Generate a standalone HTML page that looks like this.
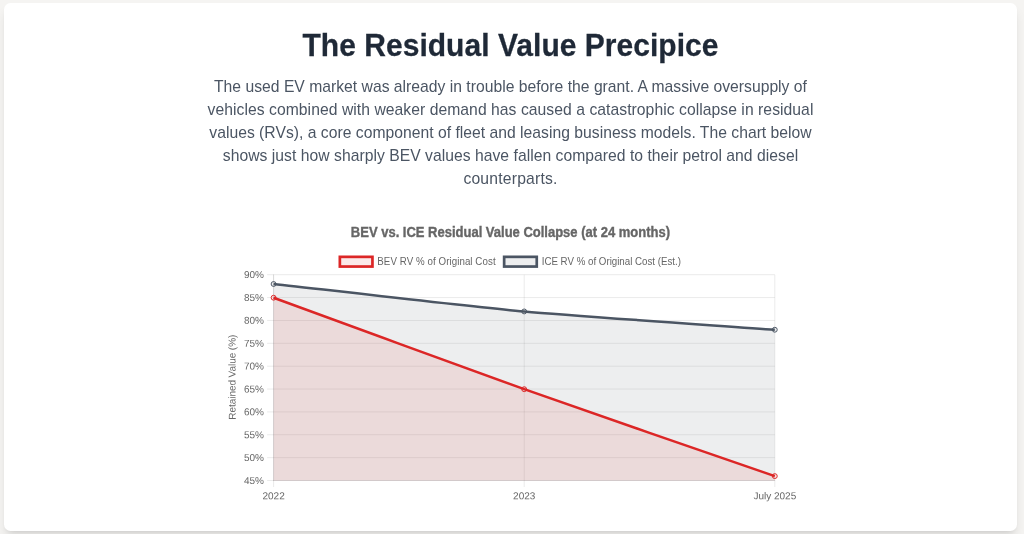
<!DOCTYPE html>
<html lang="en">
<head>
<meta charset="utf-8">
<title>The Residual Value Precipice</title>
<style>
  html, body { margin: 0; padding: 0; }
  body {
    width: 1024px; height: 534px; overflow: hidden; position: relative;
    background: #f5f4f2;
    font-family: "Liberation Sans", sans-serif;
  }
  .card {
    position: absolute; left: 4px; top: 3px; width: 1013.4px; height: 527.5px;
    background: #ffffff; border-radius: 6.5px;
    box-shadow: 0 8px 12px -2.4px rgba(0,0,0,0.10), 0 3.2px 5px -3.2px rgba(0,0,0,0.10);
  }
  h2 {
    position: absolute; left: 0; top: 23px; width: 1021px; margin: 0;
    text-align: center; white-space: nowrap;
    font-size: 30px; line-height: 40px; font-weight: 700; color: #1f2937;
    letter-spacing: 0.03px; -webkit-text-stroke: 0.25px #1f2937;
    transform: translateY(2.8px) scaleY(1.03); transform-origin: 50% 30px; will-change: transform;
  }
  .lead {
    position: absolute; left: 0; top: 0; width: 1021px; margin: 0;
    color: #4b5563; font-size: 15.7px; line-height: 23px; text-align: center;
  }
  .lead span { transform: translateY(0.6px); will-change: transform; position: absolute; left: 0; width: 1021px; white-space: nowrap; display: block; }
  svg { position: absolute; left: 0; top: 0; will-change: transform; }
  svg text { font-family: "Liberation Sans", sans-serif; fill: #666666; font-size: 9.75px; }
  svg .tk text { font-size: 10px; }
</style>
</head>
<body>
<div class="card"></div>
<h2>The Residual Value Precipice</h2>
<p class="lead">
  <span style="top:74px;left:-0.5px;letter-spacing:0.01px">The used EV market was already in trouble before the grant. A massive oversupply of</span>
  <span style="top:97px;letter-spacing:0.05px">vehicles combined with weaker demand has caused a catastrophic collapse in residual</span>
  <span style="top:120px;letter-spacing:0.015px">values (RVs), a core component of fleet and leasing business models. The chart below</span>
  <span style="top:143px;letter-spacing:0.03px">shows just how sharply BEV values have fallen compared to their petrol and diesel</span>
  <span style="top:166px;letter-spacing:0.2px">counterparts.</span>
</p>
<svg width="1024" height="534" viewBox="0 0 1024 534">
  <!-- chart title -->
  <text transform="translate(510.4 236.6) scale(1 1.07)" text-anchor="middle" style="font-size:13px;font-weight:700;stroke:#666666;stroke-width:0.35px">BEV vs. ICE Residual Value Collapse (at 24 months)</text>
  <!-- legend -->
  <rect x="339.85" y="256.85" width="32.6" height="9.7" fill="rgba(220,38,38,0.1)" stroke="#dc2626" stroke-width="2.7"/>
  <text transform="translate(377.3 264.5) scale(1 1.08)" style="letter-spacing:0.07px">BEV RV % of Original Cost</text>
  <rect x="504.15" y="256.85" width="32.6" height="9.7" fill="rgba(75,85,99,0.1)" stroke="#4b5563" stroke-width="2.7"/>
  <text transform="translate(541.7 264.5) scale(1 1.08)">ICE RV % of Original Cost (Est.)</text>
  <!-- grid -->
  <g stroke="rgba(0,0,0,0.1)" stroke-width="0.81" fill="none">
    <path d="M267.1 274.7H774.8 M267.1 297.57H774.8 M267.1 320.44H774.8 M267.1 343.31H774.8 M267.1 366.18H774.8 M267.1 389.05H774.8 M267.1 411.92H774.8 M267.1 434.79H774.8 M267.1 457.66H774.8 M267.1 480.53H774.8"/>
    <path d="M273.6 274.7V487 M524.2 274.7V487 M774.8 274.7V487"/>
    <path d="M273.6 274.3V480.93 M273.2 480.53H775.2"/>
  </g>
  <!-- ICE dataset -->
  <path d="M273.60 284.00C323.72 289.49 474.00 306.86 524.20 311.44C574.24 316.01 724.68 326.08 774.80 329.74V480.53H273.6Z" fill="rgba(75,85,99,0.1)"/>
  <path d="M273.60 284.00C323.72 289.49 474.00 306.86 524.20 311.44C574.24 316.01 724.68 326.08 774.80 329.74" fill="none" stroke="#4b5563" stroke-width="2.5" stroke-linejoin="round"/>
  <g fill="rgba(75,85,99,0.1)" stroke="#4b5563" stroke-width="0.95">
    <circle cx="273.6" cy="284.00" r="2.45"/><circle cx="524.2" cy="311.44" r="2.45"/><circle cx="774.8" cy="329.74" r="2.45"/>
  </g>
  <!-- BEV dataset -->
  <path d="M273.60 297.72C323.72 316.02 473.94 371.31 524.20 389.20C574.18 406.99 724.68 458.73 774.80 476.11V480.53H273.6Z" fill="rgba(220,38,38,0.1)"/>
  <path d="M273.60 297.72C323.72 316.02 473.94 371.31 524.20 389.20C574.18 406.99 724.68 458.73 774.80 476.11" fill="none" stroke="#dc2626" stroke-width="2.5" stroke-linejoin="round"/>
  <g fill="rgba(220,38,38,0.1)" stroke="#dc2626" stroke-width="0.95">
    <circle cx="273.6" cy="297.72" r="2.45"/><circle cx="524.2" cy="389.20" r="2.45"/><circle cx="774.8" cy="476.11" r="2.45"/>
  </g>
  <!-- y ticks -->
  <g text-anchor="end" class="tk">
    <text transform="translate(264 278.1) rotate(0.05)">90%</text>
    <text transform="translate(264 300.97) rotate(0.05)">85%</text>
    <text transform="translate(264 323.84) rotate(0.05)">80%</text>
    <text transform="translate(264 346.71) rotate(0.05)">75%</text>
    <text transform="translate(264 369.58) rotate(0.05)">70%</text>
    <text transform="translate(264 392.45) rotate(0.05)">65%</text>
    <text transform="translate(264 415.32) rotate(0.05)">60%</text>
    <text transform="translate(264 438.19) rotate(0.05)">55%</text>
    <text transform="translate(264 461.06) rotate(0.05)">50%</text>
    <text transform="translate(264 483.93) rotate(0.05)">45%</text>
  </g>
  <text transform="translate(235.6 377.2) rotate(-90.04)" text-anchor="middle" style="font-size:10px;letter-spacing:-0.06px">Retained Value (%)</text>
  <!-- x ticks -->
  <g text-anchor="middle" class="tk">
    <text transform="translate(273.6 499.3) rotate(0.05)">2022</text>
    <text transform="translate(524.2 499.3) rotate(0.05)">2023</text>
    <text transform="translate(774.8 499.3) rotate(0.05)">July 2025</text>
  </g>
</svg>
</body>
</html>
